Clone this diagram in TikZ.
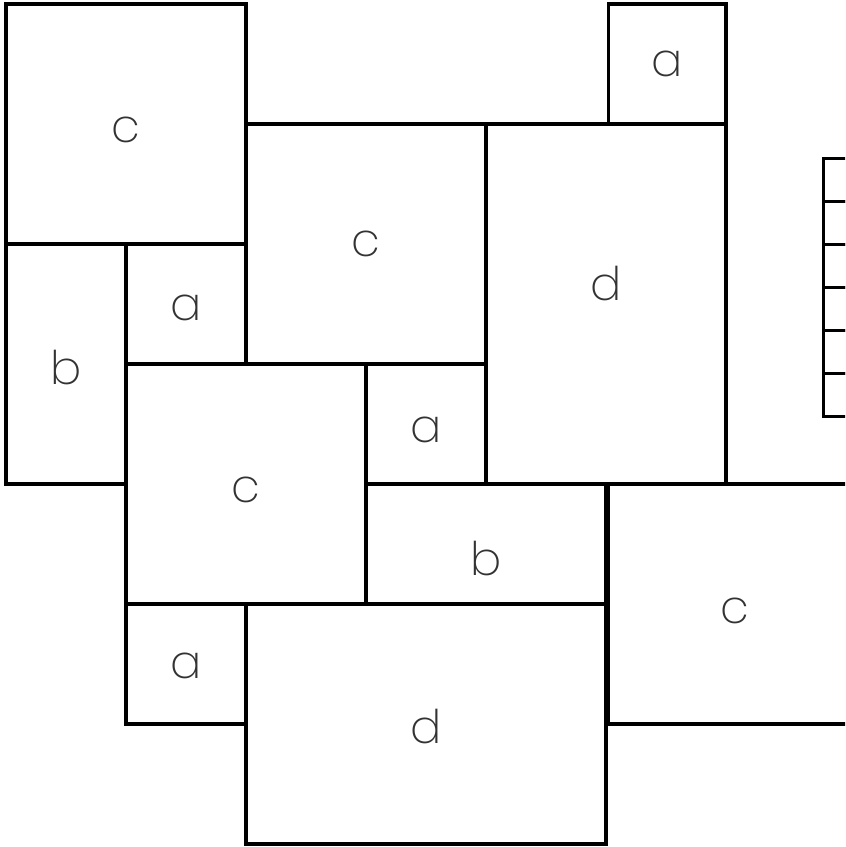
\documentclass[tikz,border=0pt]{standalone}
\usepackage{fontspec}
\setmainfont{Poppins}[UprightFont=* ExtraLight]
\usetikzlibrary{positioning,calc}

\begin{document}
\begin{tikzpicture}[
    tile/.style={draw=black, line width=0.8pt, rectangle, inner sep=0pt},
    tag/.style={font=\fontsize{11}{13}\selectfont, text=black!80},
    rung/.style={draw=black, line width=0.8pt, rectangle, inner sep=0pt,
        minimum width=0.6cm, minimum height=0.358cm}]

    \useasboundingbox (-0.05,0.033) rectangle (6.992,-7.025);
    \clip (-0.05,0.033) rectangle (6.992,-7.025);

    % Tiles: name/x/y/width/height/letter/label shift
    \foreach \n/\x/\y/\w/\h/\l/\dy in {
        c1/0/0/2/2/c/-0.05, a1/5.02/0/0.98/1/a/0,
        c2/2/1/2/2/c/0, d1/4/1/2/3/d/0.17,
        b1/0/2/1/2/b/-0.03, a2/1/2/1/1/a/-0.03,
        c3/1/3/2/2/c/-0.05, a3/3/3/1/1/a/-0.05,
        b2/3/4/2/1/b/-0.12, c4/5.02/4/2.1/2/c/-0.06,
        a4/1/5/1/1/a/-0.02, d2/2/5/3/2/d/-0.02} {
        \node[tile, minimum width=\w cm, minimum height=\h cm,
            label={[tag, yshift=\dy cm]center:\l}] (\n) at (\x+\w/2, -\y-\h/2) {};
    }

    % Ladder at the right edge
    \foreach \i in {0,...,5} {
        \node[rung, anchor=north west] (r\i) at (6.8, -1.275-\i*0.358) {};
    }
\end{tikzpicture}
\end{document}
